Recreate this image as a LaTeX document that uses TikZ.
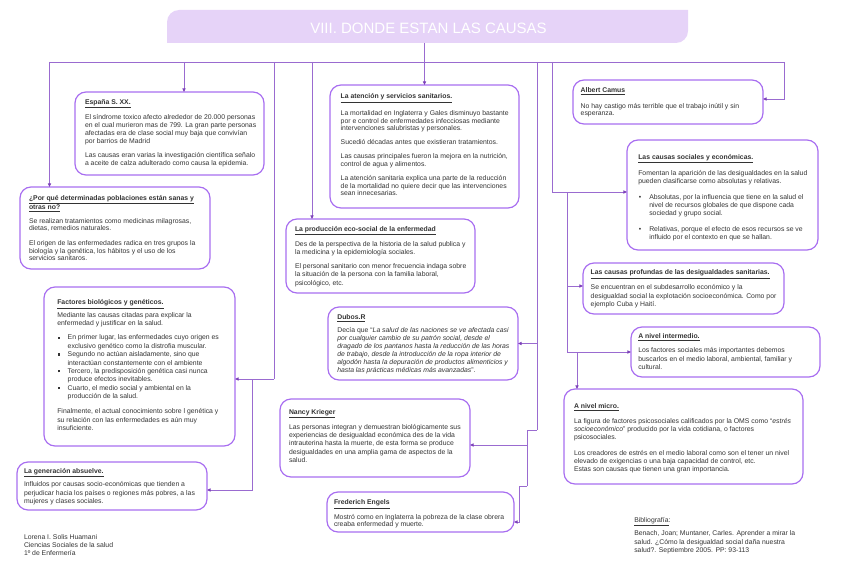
\documentclass[tikz,border=0pt]{standalone}
\usepackage{fontspec}
\setmainfont{Liberation Sans}
\usetikzlibrary{arrows.meta}
\definecolor{bxc}{HTML}{A86EF0}
\definecolor{lnc}{HTML}{9A6BD0}
\definecolor{arc}{HTML}{7B3FB8}
\definecolor{tfill}{HTML}{E6D3F8}
\definecolor{txc}{HTML}{333333}
\newcommand\mysq{\makebox[10.4pt][l]{\hspace{1pt}\raisebox{1.2pt}{\rule{2.1pt}{2.1pt}}}}
\newcommand\myfi{\hspace*{10.4pt}}
\newcommand\mybul{\makebox[11pt][l]{\hspace{0.5pt}\textbullet}}
\newcommand\mybi{\hspace*{11pt}}
\newcommand\mystr{\rule{0pt}{5.2pt}}
\newcommand\ttl[1]{\underline{\textbf{#1}}}
\begin{document}
\begin{tikzpicture}[x=1pt,y=-1pt,
 bx/.style={draw=bxc,line width=1.2pt,rounded corners=11pt,anchor=north west,inner sep=0pt,outer sep=0pt},
 tx/.style={anchor=north west,inner sep=0pt,outer sep=0pt,align=left,text=txc,font={\fontsize{6.85pt}{#1pt}\selectfont}},
 conn/.style={draw=lnc,line width=0.8pt},
 arr/.style={conn,-{Triangle[length=3.6pt,width=3.2pt,color=arc]}}]
\useasboundingbox (0,0) rectangle (848,578);
% title
\fill[tfill] (167,43) -- (167,22) arc[start angle=180,end angle=90,radius=12pt] -- (688,10) -- (688,31) arc[start angle=0,end angle=-90,radius=12pt] -- cycle;
\node[minimum width=521pt,minimum height=30pt,inner sep=0pt,text=white,font={\fontsize{15pt}{18pt}\selectfont}] (title) at (428.5,28) {VIII. DONDE ESTAN LAS CAUSAS};
% boxes
\node[bx,minimum width=189pt,minimum height=83pt] (espana) at (75,92) {};
\node[bx,minimum width=190pt,minimum height=82pt] (porque) at (20,187) {};
\node[bx,minimum width=191pt,minimum height=159pt] (factores) at (44,287) {};
\node[bx,minimum width=190pt,minimum height=48pt] (generacion) at (17,462) {};
\node[bx,minimum width=189pt,minimum height=123pt] (atencion) at (330,85) {};
\node[bx,minimum width=189pt,minimum height=74pt] (produccion) at (286,219) {};
\node[bx,minimum width=190pt,minimum height=73pt] (dubos) at (328,307) {};
\node[bx,minimum width=190pt,minimum height=78pt] (nancy) at (280,399) {};
\node[bx,minimum width=187pt,minimum height=40pt] (frederich) at (327,492) {};
\node[bx,minimum width=190pt,minimum height=44pt] (albert) at (573,80) {};
\node[bx,minimum width=191pt,minimum height=110pt] (sociales) at (627,140) {};
\node[bx,minimum width=201pt,minimum height=51pt] (profundas) at (583,263) {};
\node[bx,minimum width=189pt,minimum height=50pt] (intermedio) at (631,327) {};
\node[bx,minimum width=239pt,minimum height=95pt] (micro) at (564,389) {};
% texts
\node[tx=7.8] (tEspana) at (85,99) {\mystr\ttl{España S. XX.}\\[6.2pt]
El síndrome toxico afecto alrededor de 20.000 personas\\
en el cual murieron mas de 799. La gran parte personas\\
afectadas era de clase social muy baja que convivían\\
por barrios de Madrid\\[6.2pt]
Las causas eran varias la investigación científica señalo\\
a aceite de calza adulterado como causa la epidemia.};
\node[tx=7.4] (tPorque) at (29,195.3) {\mystr\ttl{¿Por qué determinadas poblaciones están sanas y}\\
\ttl{otras no?}\\[6.4pt]
Se realizan tratamientos como medicinas milagrosas,\\
dietas, remedios naturales.\\[7.4pt]
El origen de las enfermedades radica en tres grupos la\\
biología y la genética, los hábitos y el uso de los\\
servicios sanitaros.};
\node[tx=8.4] (tFactores) at (57.3,299.7) {\mystr\ttl{Factores biológicos y genéticos.}\\[3.2pt]
Mediante las causas citadas para explicar la\\
enfermedad y justificar en la salud.\\[5.6pt]
\mysq En primer lugar, las enfermedades cuyo origen es\\
\myfi exclusivo genético como la distrofia muscular.\\
\mysq Segundo no actúan aisladamente, sino que\\
\myfi interactúan constantemente con el ambiente\\
\mysq Tercero, la predisposición genética casi nunca\\
\myfi produce efectos inevitables.\\
\mysq Cuarto, el medio social y ambiental en la\\
\myfi producción de la salud.\\[6.6pt]
Finalmente, el actual conocimiento sobre l genética y\\
su relación con las enfermedades es aún muy\\
insuficiente.};
\node[tx=8.7] (tGeneracion) at (24,468) {\mystr\ttl{La generación absuelve.}\\[4.6pt]
Influidos por causas socio-económicas que tienden a\\
perjudicar hacia los países o regiones más pobres, a las\\
mujeres y clases sociales.};
\node[tx=7.8] (tFooter) at (24,534.7) {\mystr Lorena I. Solis Huamani\\
Ciencias Sociales de la salud\\
1º de Enfermería};
\node[tx=7.7] (tAtencion) at (340.7,93.7) {\mystr\ttl{La atención y servicios sanitarios.}\\[7.3pt]
La mortalidad en Inglaterra y Gales disminuyo bastante\\
por e control de enfermedades infecciosas mediante\\
intervenciones salubristas y personales.\\[6.2pt]
Sucedió décadas antes que existieran tratamientos.\\[6.3pt]
Las causas principales fueron la mejora en la nutrición,\\
control de agua y alimentos.\\[6.3pt]
La atención sanitaria explica una parte de la reducción\\
de la mortalidad no quiere decir que las intervenciones\\
sean innecesarias.};
\node[tx=8.3] (tProduccion) at (295,226.3) {\mystr\ttl{La producción eco-social de la enfermedad}\\[5.7pt]
Des de la perspectiva de la historia de la salud publica y\\
la medicina y la epidemiología sociales.\\[5.4pt]
El personal sanitario con menor frecuencia indaga sobre\\
la situación de la persona con la familia laboral,\\
psicológico, etc.};
\node[tx=8] (tDubos) at (337.3,314.7) {\mystr\ttl{Dubos.R}\\[4.3pt]
Decía que “\textit{La salud de las naciones se ve afectada casi}\\
\textit{por cualquier cambio de su patrón social, desde el}\\
\textit{dragado de los pantanos hasta la reducción de las horas}\\
\textit{de trabajo, desde la introducción de la ropa interior de}\\
\textit{algodón hasta la depuración de productos alimenticios y}\\
\textit{hasta las prácticas médicas más avanzadas}”.};
\node[tx=8.3] (tNancy) at (289,409.3) {\mystr\ttl{Nancy Krieger}\\[5.1pt]
Las personas integran y demuestran biológicamente sus\\
experiencias de desigualdad económica des de la vida\\
intrauterina hasta la muerte, de esta forma se produce\\
desigualdades en una amplia gama de aspectos de la\\
salud.};
\node[tx=7.7] (tFrederich) at (334,499.7) {\mystr\ttl{Frederich Engels}\\[4.6pt]
Mostró como en Inglaterra la pobreza de la clase obrera\\
creaba enfermedad y muerte.};
\node[tx=7.3] (tAlbert) at (580.7,87.7) {\mystr\ttl{Albert Camus}\\[8pt]
No hay castigo más terrible que el trabajo inútil y sin\\
esperanza.};
\node[tx=8.2] (tSociales) at (638.3,154.3) {\mystr\ttl{Las causas sociales y económicas.}\\[6.2pt]
Fomentan la aparición de las desigualdades en la salud\\
pueden clasificarse como absolutas y relativas.\\[7.8pt]
\mybul Absolutas, por la influencia que tiene en la salud el\\
\mybi nivel de recursos globales de que dispone cada\\
\mybi sociedad y grupo social.\\[7.1pt]
\mybul Relativas, porque el efecto de esos recursos se ve\\
\mybi influido por el contexto en que se hallan.};
\node[tx=8.5] (tProfundas) at (590.7,269.7) {\mystr\ttl{Las causas profundas de las desigualdades sanitarias.}\\[6.1pt]
Se encuentran en el subdesarrollo económico y la\\
desigualdad social la explotación socioeconómica. Como por\\
ejemplo Cuba y Haití.};
\node[tx=8.3] (tIntermedio) at (638.3,333.7) {\mystr\ttl{A nivel intermedio.}\\[5.7pt]
Los factores sociales más importantes debemos\\
buscarlos en el medio laboral, ambiental, familiar y\\
cultural.};
\node[tx=7.8] (tMicro) at (574,403.7) {\mystr\ttl{A nivel micro.}\\[7.2pt]
La figura de factores psicosociales calificados por la OMS como “\textit{estrés}\\
\textit{socioeconómico}” producido por la vida cotidiana, o factores\\
psicosociales.\\[8.2pt]
Los creadores de estrés en el medio laboral como son el tener un nivel\\
elevado de exigencias o una baja capacidad de control, etc.\\
Estas son causas que tienen una gran importancia.};
\node[tx=8.3] (tBiblio) at (634.3,517) {\mystr\underline{Bibliografía}:\\[4.4pt]
Benach, Joan; Muntaner, Carles. Aprender a mirar la\\
salud. ¿Cómo la desigualdad social daña nuestra\\
salud?. Septiembre 2005. PP: 93-113};
% connectors
\coordinate (busL) at (49.5,62);
\coordinate (busR) at (784,62);
\draw[conn] (busL) -- (busR);
\draw[arr] (busL) -- (busL |- porque.north);
\coordinate (bE) at (184,62);
\draw[arr] (bE) -- (bE |- espana.north);
\coordinate (tS) at (424.5,43);
\draw[arr] (tS) -- (tS |- atencion.north);
\coordinate (bF) at (274,62);
\coordinate (jF) at (274,379);
\draw[conn] (bF) -- (jF);
\draw[arr] (jF) -- (jF -| factores.east);
\coordinate (jG) at (252,379);
\coordinate (jG2) at (252,490);
\draw[arr] (jG) -- (jG2) -- (jG2 -| generacion.east);
\coordinate (bP) at (312,62);
\draw[arr] (bP) -- (bP |- produccion.north);
\coordinate (bD) at (537,62);
\draw[arr] (bD) |- (dubos.east);
\coordinate (jN1) at (537,430);
\coordinate (jN2) at (527,430);
\coordinate (jN3) at (527,445);
\draw[conn] (bD |- dubos.east) -- (jN1);
\draw[arr] (jN1) -- (jN2) -- (jN3) -- (jN3 -| nancy.east);
\coordinate (jR1) at (527,486);
\coordinate (jR2) at (519,486);
\coordinate (jR3) at (519,522);
\draw[conn] (jN3) -- (jR1);
\draw[arr] (jR1) -- (jR2) -- (jR3) -- (jR3 -| frederich.east);
\coordinate (bS) at (552,62);
\coordinate (jS) at (552,192);
\draw[arr] (bS) -- (jS) -- (jS -| sociales.west);
\coordinate (jS2) at (567,192);
\coordinate (jP) at (567,286);
\coordinate (jI) at (567,352);
\draw[conn] (jS2) -- (jI);
\draw[arr] (jP) -- (jP -| profundas.west);
\draw[arr] (jI) -- (jI -| intermedio.west);
\coordinate (jM) at (577,352);
\draw[arr] (jM) -- (jM |- micro.north);
\coordinate (jA) at (784,99);
\draw[arr] (busR) -- (jA) -- (jA -| albert.east);
\end{tikzpicture}
\end{document}
